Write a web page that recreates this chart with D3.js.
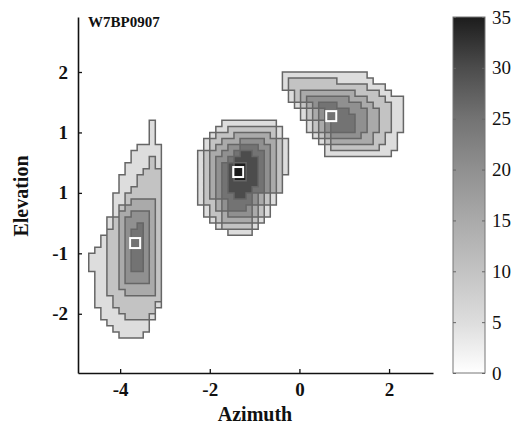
<!DOCTYPE html>
<html>
<head>
<meta charset="utf-8">
<script src="https://cdn.jsdelivr.net/npm/d3@7"></script>
<style>
  body { margin: 0; background: #fff; }
  svg { display: block; font-family: "Liberation Serif", "Times New Roman", serif; }
</style>
</head>
<body>
<svg id="chart" width="513" height="432"></svg>
<script>
// binned azimuth/elevation histogram
var binAz0 = -4.7, binAzStep = 0.135;
var binEl0 = 2.3, binElStep = 0.1;
var nCols = 54, nRows = 48;
var levelValues = [0, 5, 10, 15, 20, 25, 30, 35];

// runs of bins at or above a level: [level, firstRow, lastRow, firstCol, lastCol]
var leftBlob = [
  [1,11,14,10,10],[1,15,15,8,11],[1,16,17,7,11],[1,18,19,6,11],[1,20,22,5,11],
  [1,23,26,4,11],[1,27,29,3,11],[1,30,31,2,11],[1,32,32,1,11],[1,33,35,0,11],
  [1,36,41,1,11],[1,42,43,2,10],[1,44,44,3,9],[1,45,45,4,9],[1,46,46,5,8],
  [2,17,18,10,10],[2,19,19,9,11],[2,20,21,8,11],[2,22,22,7,11],[2,23,24,6,11],
  [2,25,26,5,11],[2,27,28,4,11],[2,29,39,3,11],[2,40,40,4,11],[2,41,41,4,10],
  [2,42,42,5,10],[2,43,43,6,9],
  [3,24,24,7,10],[3,25,25,6,10],[3,26,38,5,10],[3,39,39,6,10],
  [4,26,26,7,9],[4,27,37,6,9],
  [5,28,28,8,8],[5,29,35,7,8]
];
var middleBlob = [
  [1,11,11,22,30],[1,12,12,21,31],[1,13,13,20,31],[1,14,15,19,32],[1,16,19,18,32],
  [1,20,22,18,31],[1,23,24,18,30],[1,25,26,19,29],[1,27,27,20,28],[1,28,28,21,27],
  [1,29,29,23,26],
  [2,12,12,23,30],[2,13,13,21,30],[2,14,15,20,31],[2,16,22,19,31],[2,23,24,19,29],
  [2,25,26,20,28],[2,27,27,21,27],[2,28,28,22,26],
  [3,13,13,24,29],[3,14,14,22,30],[3,15,15,21,30],[3,16,22,20,30],[3,23,23,20,28],
  [3,24,24,21,28],[3,25,25,21,27],[3,26,26,22,27],[3,27,27,22,26],
  [4,14,14,25,28],[4,15,15,23,29],[4,16,16,22,29],[4,17,22,21,29],[4,23,23,21,27],
  [4,24,24,22,27],[4,25,25,22,26],[4,26,26,23,26],
  [5,15,15,25,27],[5,16,16,24,28],[5,17,17,23,28],[5,18,22,22,28],[5,23,23,22,26],
  [5,24,24,23,26],[5,25,25,23,25],
  [6,16,16,25,26],[6,17,17,24,27],[6,18,21,23,27],[6,22,22,23,26],[6,23,23,24,25],
  [7,18,20,24,25]
];
var rightBlob = [
  [1,3,3,32,45],[1,4,4,32,46],[1,5,5,32,48],[1,6,6,33,49],[1,7,7,33,51],
  [1,8,8,34,51],[1,9,10,35,51],[1,11,12,36,51],[1,13,13,37,50],[1,14,14,38,50],
  [1,15,15,39,50],[1,16,16,39,49],
  [2,4,4,33,40],[2,5,5,33,45],[2,6,6,34,47],[2,7,7,34,48],[2,8,8,35,49],
  [2,9,10,36,49],[2,11,12,37,49],[2,13,13,38,48],[2,14,14,39,48],[2,15,15,40,47],
  [3,6,6,35,43],[3,7,7,35,45],[3,8,8,36,46],[3,9,10,37,47],[3,11,12,38,47],
  [3,13,13,39,46],[3,14,14,40,46],
  [4,7,7,36,42],[4,8,8,37,44],[4,9,10,38,45],[4,11,12,39,45],[4,13,13,40,44],
  [5,8,8,38,40],[5,9,9,39,42],[5,10,10,39,43],[5,11,12,40,43]
];

// peak positions [azimuth, elevation]
var peaks = [[-3.665, -0.83], [-1.366, 0.345], [0.71, 1.27]];

var xTicks = [-4, -2, 0, 2];
var yTicks = [2, 1, 0, -1, -2];
var yTickLabels = ["2", "1", "1", "-1", "-2"];
var colorTicks = [0, 5, 10, 15, 20, 25, 30, 35];

var svg = d3.select("#chart");

var x = d3.scaleLinear().domain([-4.94, 2.98]).range([78, 433]);
var y = d3.scaleLinear().domain([-2.98, 2.91]).range([373, 17]);
var cbar = d3.scaleLinear().domain([0, 35]).range([373, 17]);
var shade = d3.scaleLinear()
    .domain(colorTicks)
    .range(["#ffffff", "#dddddd", "#c3c3c3", "#aaaaaa", "#909090", "#737373", "#4c4c4c", "#1c1c1c"]);

// build level grid from runs
var grid = [];
for (var r = 0; r < nRows; r++) grid.push(new Array(nCols).fill(0));
leftBlob.concat(middleBlob, rightBlob).forEach(function (d) {
  for (var r = d[1]; r <= d[2]; r++)
    for (var c = d[3]; c <= d[4]; c++)
      grid[r][c] = Math.max(grid[r][c], d[0]);
});
function lv(r, c) {
  if (r < 0 || c < 0 || r >= nRows || c >= nCols) return 0;
  return grid[r][c];
}
function az(c) { return binAz0 + c * binAzStep; }
function el(r) { return binEl0 - r * binElStep; }

var plot = svg.append("g");

// filled bands, lowest first
for (var k = 1; k < levelValues.length; k++) {
  var p = d3.path();
  for (var r = 0; r < nRows; r++) {
    var c = 0;
    while (c < nCols) {
      if (grid[r][c] >= k) {
        var c1 = c;
        while (c1 + 1 < nCols && grid[r][c1 + 1] >= k) c1++;
        p.rect(x(az(c)), y(el(r)), x(az(c1 + 1)) - x(az(c)), y(el(r + 1)) - y(el(r)));
        c = c1 + 1;
      } else c++;
    }
  }
  plot.append("path")
      .attr("d", p.toString())
      .attr("fill", shade(levelValues[k]));
}

// contour lines along bin edges where the level changes
var edges = d3.path();
for (var r = -1; r < nRows; r++) {
  for (var c = -1; c < nCols; c++) {
    if (lv(r, c) !== lv(r, c + 1) && r >= 0) {
      edges.moveTo(x(az(c + 1)), y(el(r)));
      edges.lineTo(x(az(c + 1)), y(el(r + 1)));
    }
    if (lv(r, c) !== lv(r + 1, c) && c >= 0) {
      edges.moveTo(x(az(c)), y(el(r + 1)));
      edges.lineTo(x(az(c + 1)), y(el(r + 1)));
    }
  }
}
plot.append("path")
    .attr("d", edges.toString())
    .attr("fill", "none")
    .attr("stroke", "#666")
    .attr("stroke-width", 1.5)
    .attr("stroke-linecap", "square");

// peak markers
plot.selectAll("rect.peak")
    .data(peaks)
    .enter()
    .append("rect")
    .attr("class", "peak")
    .attr("x", function (d) { return x(d[0]) - 5; })
    .attr("y", function (d) { return y(d[1]) - 5; })
    .attr("width", 10)
    .attr("height", 10)
    .attr("fill", "none")
    .attr("stroke", "#ffffff")
    .attr("stroke-width", 2);

// axes
var xAxis = d3.axisBottom(x)
    .tickValues(xTicks)
    .tickSizeInner(-4)
    .tickSizeOuter(0)
    .tickPadding(10)
    .tickFormat(function (d) { return String(d); });
var yAxis = d3.axisLeft(y)
    .tickValues(yTicks)
    .tickSizeInner(-4)
    .tickSizeOuter(0)
    .tickPadding(10)
    .tickFormat(function (d, i) { return yTickLabels[i]; });

var gx = svg.append("g").attr("transform", "translate(0,373)").call(xAxis);
var gy = svg.append("g").attr("transform", "translate(78,0)").call(yAxis);
[gx, gy].forEach(function (g) {
  g.select(".domain").attr("stroke", "#111").attr("stroke-width", 1.6);
  g.selectAll(".tick line").attr("stroke", "#111").attr("stroke-width", 1.3);
  g.selectAll(".tick text")
      .attr("fill", "#111")
      .style("font-family", "'Liberation Serif', serif")
      .style("font-size", "19px")
      .style("font-weight", "bold");
});

// colour bar
var grad = svg.append("defs").append("linearGradient")
    .attr("id", "cbarGrad")
    .attr("x1", 0).attr("y1", 1).attr("x2", 0).attr("y2", 0);
grad.selectAll("stop")
    .data(colorTicks)
    .enter()
    .append("stop")
    .attr("offset", function (d) { return d / 35; })
    .attr("stop-color", function (d) { return shade(d); });

svg.append("rect")
    .attr("x", 453)
    .attr("y", cbar(35))
    .attr("width", 32)
    .attr("height", cbar(0) - cbar(35))
    .attr("fill", "url(#cbarGrad)")
    .attr("stroke", "#777")
    .attr("stroke-width", 1);

var cAxisR = d3.axisRight(cbar).tickValues(colorTicks).tickSizeInner(-3).tickSizeOuter(0).tickPadding(7);
var cAxisL = d3.axisLeft(cbar).tickValues(colorTicks).tickSizeInner(-3).tickSizeOuter(0).tickFormat("");
var gcR = svg.append("g").attr("transform", "translate(485,0)").call(cAxisR);
var gcL = svg.append("g").attr("transform", "translate(453,0)").call(cAxisL);
[gcR, gcL].forEach(function (g) {
  g.select(".domain").remove();
  g.selectAll(".tick line").attr("stroke", "#666");
  g.selectAll(".tick text")
      .attr("fill", "#111")
      .style("font-family", "'Liberation Serif', serif")
      .style("font-size", "19px");
});

// titles
svg.append("text")
    .attr("transform", "translate(28,196) rotate(-90)")
    .attr("text-anchor", "middle")
    .style("font-size", "20px")
    .style("font-weight", "bold")
    .attr("fill", "#111")
    .text("Elevation");

svg.append("text")
    .attr("x", 255)
    .attr("y", 421)
    .attr("text-anchor", "middle")
    .style("font-size", "20px")
    .style("font-weight", "bold")
    .attr("fill", "#111")
    .text("Azimuth");

svg.append("text")
    .attr("x", 88)
    .attr("y", 27)
    .style("font-size", "15px")
    .style("font-weight", "bold")
    .attr("fill", "#111")
    .text("W7BP0907");
</script>
</body>
</html>
